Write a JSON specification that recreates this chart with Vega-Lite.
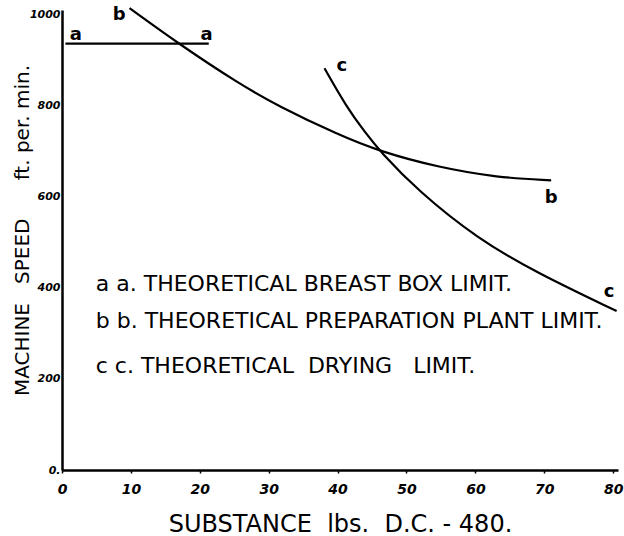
{
  "$schema": "https://vega.github.io/schema/vega-lite/v6.json",
  "width": 556,
  "height": 460,
  "autosize": {"type": "none"},
  "padding": {"left": 62, "top": 10, "right": 6, "bottom": 66},
  "background": "white",
  "config": {
    "view": {"stroke": null},
    "axis": {"grid": false, "domainColor": "black", "domainWidth": 2.5, "tickColor": "black", "labelColor": "black", "titleColor": "black"}
  },
  "datasets": {
    "curves": [
      {"s": "a", "x": 0.5, "v": 936},
      {"s": "a", "x": 21.3, "v": 936},
      {"s": "b", "x": 9.8, "v": 1014},
      {"s": "b", "x": 17.0, "v": 935},
      {"s": "b", "x": 25.7, "v": 848},
      {"s": "b", "x": 31.4, "v": 799},
      {"s": "b", "x": 40.1, "v": 736},
      {"s": "b", "x": 46.2, "v": 699},
      {"s": "b", "x": 54.5, "v": 665},
      {"s": "b", "x": 63.2, "v": 642},
      {"s": "b", "x": 71.0, "v": 636},
      {"s": "c", "x": 38.1, "v": 882},
      {"s": "c", "x": 41.3, "v": 797},
      {"s": "c", "x": 44.0, "v": 741},
      {"s": "c", "x": 46.2, "v": 699},
      {"s": "c", "x": 51.6, "v": 614},
      {"s": "c", "x": 60.3, "v": 508},
      {"s": "c", "x": 68.9, "v": 433},
      {"s": "c", "x": 80.5, "v": 349}
    ],
    "marks": [
      {"t": "a", "x": 2.0, "v": 956},
      {"t": "a", "x": 21.0, "v": 956},
      {"t": "b", "x": 8.3, "v": 1000},
      {"t": "b", "x": 71.0, "v": 598},
      {"t": "c", "x": 40.6, "v": 886},
      {"t": "c", "x": 79.4, "v": 391}
    ],
    "legend": [
      {"t": "a a. THEORETICAL BREAST BOX LIMIT.", "x": 4.9, "v": 409},
      {"t": "b b. THEORETICAL PREPARATION PLANT LIMIT.", "x": 4.9, "v": 327},
      {"t": "c c. THEORETICAL\u00a0\u00a0DRYING\u00a0\u00a0\u00a0LIMIT.", "x": 4.9, "v": 229}
    ]
  },
  "layer": [
    {
      "data": {"name": "curves"},
      "mark": {"type": "line", "color": "black", "strokeWidth": 2.2, "interpolate": "basis"},
      "encoding": {
        "x": {
          "field": "x", "type": "quantitative",
          "scale": {"domain": [0, 80.7], "nice": false, "zero": false},
          "axis": {
            "values": [0, 10, 20, 30, 40, 50, 60, 70, 80],
            "tickSize": 3, "tickWidth": 1.5,
            "labelFont": "DejaVu Sans", "labelFontSize": 14, "labelFontWeight": "bold", "labelFontStyle": "italic",
            "labelPadding": 9, "labelFlush": false,
            "title": "SUBSTANCE\u00a0\u00a0lbs.\u00a0\u00a0D.C.\u00a0-\u00a0480.",
            "titleFont": "DejaVu Sans", "titleFontSize": 24, "titleFontWeight": "normal",
            "titleBaseline": "alphabetic", "titleY": 61
          }
        },
        "y": {
          "field": "v", "type": "quantitative",
          "scale": {"domain": [0, 1010], "nice": false},
          "axis": {
            "values": [0, 200, 400, 600, 800, 1000],
            "format": "d",
            "labelExpr": "datum.value == 0 ? '0.' : datum.label",
            "tickSize": 0,
            "labelFont": "DejaVu Sans", "labelFontSize": 11, "labelFontWeight": "bold", "labelFontStyle": "italic",
            "labelPadding": 2, "labelFlush": false,
            "title": "MACHINE\u00a0\u00a0\u00a0SPEED\u00a0\u00a0\u00a0\u00a0\u00a0\u00a0ft.\u00a0per.\u00a0min.",
            "titleFont": "DejaVu Sans", "titleFontSize": 20, "titleFontWeight": "normal",
            "titleX": -30, "titleY": 220, "titleAlign": "center"
          }
        },
        "detail": {"field": "s"}
      }
    },
    {
      "data": {"name": "marks"},
      "mark": {"type": "text", "font": "DejaVu Sans", "fontSize": 18, "fontWeight": "bold", "color": "black", "align": "center", "baseline": "middle"},
      "encoding": {
        "x": {"field": "x", "type": "quantitative"},
        "y": {"field": "v", "type": "quantitative"},
        "text": {"field": "t"}
      }
    },
    {
      "data": {"name": "legend"},
      "mark": {"type": "text", "font": "DejaVu Sans", "fontSize": 22, "color": "black", "align": "left", "baseline": "middle"},
      "encoding": {
        "x": {"field": "x", "type": "quantitative"},
        "y": {"field": "v", "type": "quantitative"},
        "text": {"field": "t"}
      }
    }
  ]
}
